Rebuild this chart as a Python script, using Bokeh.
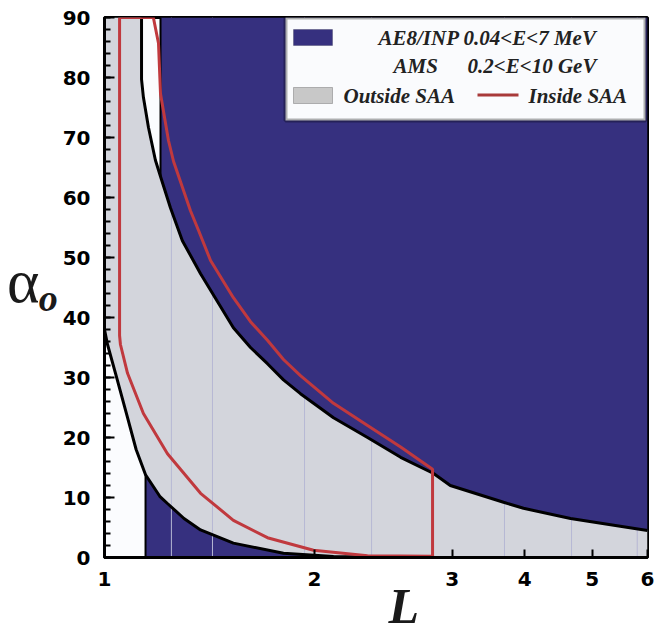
from bokeh.plotting import figure
from bokeh.models import (Range1d, FixedTicker, SingleIntervalTicker, Label, BoxAnnotation,
                          LinearAxis, Title)
from bokeh.embed import file_html
from bokeh.resources import INLINE

# ---------------- data ----------------
# upper boundary of the AMS "outside SAA" region (L, equatorial pitch angle in deg)
upper_L = [1.130, 1.130, 1.137, 1.156, 1.183, 1.203, 1.243, 1.293, 1.373, 1.530, 1.619,
           1.712, 1.805, 1.909, 2.129, 2.382, 2.657, 2.962, 3.130, 3.731, 3.985, 4.655, 6.0]
upper_a = [90, 79.7, 76.7, 71.7, 66.2, 63.5, 58.3, 52.8, 47.3, 38.3, 35.0,
           32.3, 29.6, 27.3, 23.3, 20.0, 16.7, 14.0, 12.0, 9.2, 8.2, 6.5, 4.5]
# lower boundary
lower_L = [1.0, 1.010, 1.037, 1.079, 1.110, 1.145, 1.200, 1.231, 1.300, 1.373, 1.530,
           1.805, 2.129, 3.0, 6.0]
lower_a = [38, 35.5, 30.7, 23.3, 18.0, 13.8, 10.2, 9.0, 6.5, 4.6, 2.4,
           0.7, 0.15, 0, 0]
# AE8/INP region edges
ae8_top_Lmin = 1.203
ae8_bot_Lmin = 1.145
ae8_bot_Lmax = 3.0
# inside SAA contour (closed)
saa_L = [1.051, 1.175, 1.195, 1.203, 1.235, 1.256, 1.328, 1.364, 1.419, 1.530, 1.619,
         1.712, 1.805, 1.909, 2.129, 2.382, 2.657, 2.952, 2.952,
         2.382, 1.993, 1.712, 1.530, 1.373, 1.231, 1.137, 1.079, 1.054, 1.051, 1.051]
saa_a = [90, 90, 85.7, 77.3, 69.5, 66.0, 57.8, 54.5, 49.5, 43.3, 39.3,
         36.2, 33.0, 30.3, 25.7, 22.0, 18.4, 14.7, 0.2,
         0.3, 1.2, 3.3, 6.2, 10.7, 17.3, 24.0, 30.7, 35.5, 37.0, 90]
# faint mesh lines of the original plot
mesh_L = [1.247, 1.428, 1.935, 2.414, 3.743, 4.67, 5.80]
L_min, L_max = 1.0, 6.0
a_min, a_max = 0, 90
x_tick_values = [1, 2, 3.15, 4, 5, 6]
x_tick_labels = ["1", "2", "3", "4", "5", "6"]

# ---------------- styles ----------------
BLUE = "#36307f"
GREY = "#d3d5dc"
BG = "#fbfcfe"
RED = "#c0393e"
MESH = "#b6b8d4"
SERIF = "Liberation Serif"

p = figure(width=663, height=636, x_axis_type="log",
           x_range=Range1d(L_min, L_max), y_range=Range1d(a_min, a_max),
           output_backend="svg", toolbar_location=None,
           min_border_left=104, min_border_right=16, min_border_top=17, min_border_bottom=79,
           background_fill_color=BG, border_fill_color="white")
p.grid.visible = False
p.outline_line_color = "black"
p.outline_line_width = 3

# grey region (outside SAA)
grey_x = [L_min] + upper_L + [L_max] + lower_L[::-1]
grey_y = [a_max] + upper_a + [a_min] + lower_a[::-1]
p.patch(grey_x, grey_y, fill_color=GREY, line_color=None)

# AE8 bottom region
bx = [ae8_bot_Lmin] + [l for l in lower_L if ae8_bot_Lmin <= l <= ae8_bot_Lmax] + [ae8_bot_Lmax]
by = [a_min] + [a for l, a in zip(lower_L, lower_a) if ae8_bot_Lmin <= l <= ae8_bot_Lmax] + [a_min]
p.patch(bx, by, fill_color=BLUE, line_color=None)

# mesh lines
p.segment(x0=mesh_L, y0=[a_min] * len(mesh_L), x1=mesh_L, y1=[a_max] * len(mesh_L),
          line_color=MESH, line_width=1)

# AE8 top region
tx = [ae8_top_Lmin] + [l for l in upper_L if l >= ae8_top_Lmin] + [L_max]
ty = [a_max] + [a for l, a in zip(upper_L, upper_a) if l >= ae8_top_Lmin] + [a_max]
p.patch(tx, ty, fill_color=BLUE, line_color=None)

# boundaries
p.line(upper_L, upper_a, line_color="black", line_width=3)
p.line(lower_L, lower_a, line_color="black", line_width=3)
edge_a = [a for l, a in zip(upper_L, upper_a) if l == ae8_top_Lmin][0]
p.line([ae8_top_Lmin, ae8_top_Lmin], [a_max, edge_a], line_color="black", line_width=2)
edge_b = [a for l, a in zip(lower_L, lower_a) if l == ae8_bot_Lmin][0]
p.line([ae8_bot_Lmin, ae8_bot_Lmin], [a_min, edge_b], line_color="black", line_width=2)

# inside SAA
p.line(saa_L, saa_a, line_color=RED, line_width=3)

# ---------------- axes ----------------
xa = p.xaxis[0]
xa.ticker = FixedTicker(ticks=x_tick_values, minor_ticks=[])
xa.major_label_overrides = {v: t for v, t in zip(x_tick_values, x_tick_labels)}
ya = p.yaxis[0]
ya.ticker = SingleIntervalTicker(interval=10, num_minor_ticks=5)
for ax in (xa, ya):
    ax.axis_line_width = 3
    ax.axis_line_color = "black"
    ax.major_tick_line_width = 2
    ax.minor_tick_line_width = 2
    ax.major_tick_out = 0
    ax.minor_tick_out = 0
    ax.major_label_text_font = "DejaVu Sans"
    ax.major_label_text_font_size = "20px"
    ax.major_label_text_font_style = "bold"
    ax.major_label_text_color = "black"
xa.major_tick_in = 8
xa.minor_tick_in = 0
xa.major_label_standoff = 14
ya.major_tick_in = 10
ya.minor_tick_in = 6
ya.major_label_standoff = 14

# y title: alpha with subscript o (subscript lowered with an empty first line)
ya.axis_label = "\no"
ya.axis_label_orientation = "horizontal"
ya.axis_label_standoff = 2
ya.axis_label_text_font = SERIF
ya.axis_label_text_font_size = "38px"
ya.axis_label_text_font_style = "bold italic"
ya.axis_label_text_color = "#1a1a1a"
ya.axis_label_text_line_height = 0.5

outer = LinearAxis(ticker=FixedTicker(ticks=[], minor_ticks=[]), axis_label="α\n",
                   axis_label_orientation="horizontal", axis_label_standoff=-4,
                   axis_line_color=None, major_tick_line_color=None, minor_tick_line_color=None,
                   axis_label_text_font=SERIF, axis_label_text_font_size="62px",
                   axis_label_text_font_style="normal", axis_label_text_color="#1a1a1a",
                   axis_label_text_line_height=0.2)
p.add_layout(outer, "left")

# x title
p.add_layout(Title(text="L", align="left", offset=284, vertical_align="top", standoff=-21,
                   text_font=SERIF, text_font_size="50px", text_font_style="bold italic",
                   text_color="#1a1a1a"), "below")

# ---------------- legend ----------------
def sbox(l, r, t, b, **kw):
    return BoxAnnotation(left=l, right=r, top=t, bottom=b,
                         left_units="screen", right_units="screen", top_units="screen",
                         bottom_units="screen", fill_alpha=1, **kw)

p.add_layout(sbox(181, 541, 540, 437, fill_color="#fafbfd", line_color="black", line_width=4))
p.add_layout(sbox(189, 228, 528, 512, fill_color=BLUE, line_color="#222244", line_width=1))
p.add_layout(sbox(189, 228, 470, 454, fill_color="#c8c8c8", line_color="#333333", line_width=1))
p.add_layout(sbox(373, 414, 464, 461, fill_color="#a83a3a", line_color=None))
leg_texts = [("AE8/INP 0.04<E<7 MeV", 274, 520), ("AMS", 289, 492), ("0.2<E<10 GeV", 363, 492),
             ("Outside SAA", 239, 462), ("Inside SAA", 424, 462)]
for t, lx, ly in leg_texts:
    p.add_layout(Label(x=lx, y=ly, x_units="screen", y_units="screen", text=t,
                       text_font=SERIF, text_font_size="21px",
                       text_font_style="bold italic", text_color="#222222",
                       text_align="left", text_baseline="middle"))

open("out.html", "w").write(file_html(p, INLINE))
